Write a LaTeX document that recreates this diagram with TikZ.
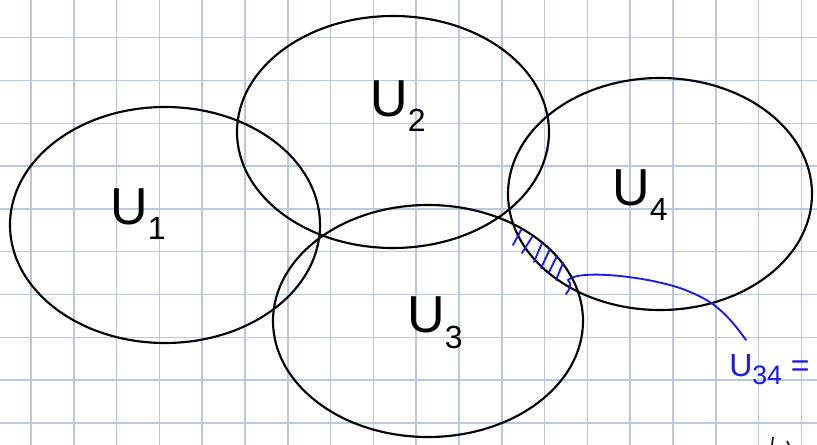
\documentclass[tikz,border=0pt]{standalone}
\usepackage{fontspec}
\setmainfont{Liberation Sans}
\definecolor{gridblue}{RGB}{184,200,226}
\definecolor{inkblue}{RGB}{25,25,235}
\tikzset{
  gridline/.style={draw=gridblue, line width=1.1pt},
  setring/.style={draw=black, line width=1.6pt},
  setlabel/.style={inner sep=0pt, font=\fontsize{39}{39}\selectfont},
  hatchline/.style={draw=inkblue, line width=1.4pt, line cap=round},
  bluelabel/.style={inner sep=0pt, anchor=south west, text=inkblue, font=\fontsize{24}{24}\selectfont}
}
\newcommand{\lbl}[1]{U\raisebox{-0.3em}{\fontsize{24}{24}\selectfont #1}}
\begin{document}
\begin{tikzpicture}[x=0.75pt,y=-0.75pt]
\useasboundingbox (0,0) rectangle (817,445);
\fill[white] (0,0) rectangle (817,445);
% grid
\foreach \i in {0,...,18} {\draw[gridline] ({31+42.8*\i},0) -- ({31+42.8*\i},445);}
\foreach \j in {0,...,9} {\draw[gridline] (0,{37.7+42.8*\j}) -- (817,{37.7+42.8*\j});}
% sets
\draw[setring] (165,225) ellipse [x radius=155*0.75pt, y radius=118*0.75pt];
\draw[setring] (393,132) ellipse [x radius=156*0.75pt, y radius=116*0.75pt];
\draw[setring] (428,321) ellipse [x radius=155*0.75pt, y radius=116*0.75pt];
\draw[setring] (660,194) ellipse [x radius=152*0.75pt, y radius=116*0.75pt];
% labels
\node[setlabel] (u1) at (138,214) {\lbl{1}};
\node[setlabel] (u2) at (398,106) {\lbl{2}};
\node[setlabel] (u3) at (435,323) {\lbl{3}};
\node[setlabel] (u4) at (640,195) {\lbl{4}};
% hatching in U3 cap U4
\draw[hatchline] (521,230) -- (513,245);
\draw[hatchline] (532,237) -- (522,253);
\draw[hatchline] (542,243) -- (534,262);
\draw[hatchline] (550,249) -- (541,268);
\draw[hatchline] (557,256) -- (549,272);
\draw[hatchline] (563,263) -- (556,280);
\draw[hatchline] (568,280) .. controls (572,284) and (570,289) .. (566,294);
% annotation
\coordinate (hs) at (568,280);
\node[bluelabel] (u34) at (729,385) {U\raisebox{-0.25em}{\fontsize{20}{20}\selectfont 34} =};
\coordinate (ce) at (746,340);
\draw[hatchline] (hs) .. controls (580,268) and (660,278) .. (690,292)
  .. controls (715,302) and (728,315) .. (ce);
% cut-off marks at bottom
\draw[draw=black, line width=1.2pt] (773,437) -- (772,445);
\draw[draw=black, line width=1.2pt] (787,441) -- (789,445);
\end{tikzpicture}
\end{document}
